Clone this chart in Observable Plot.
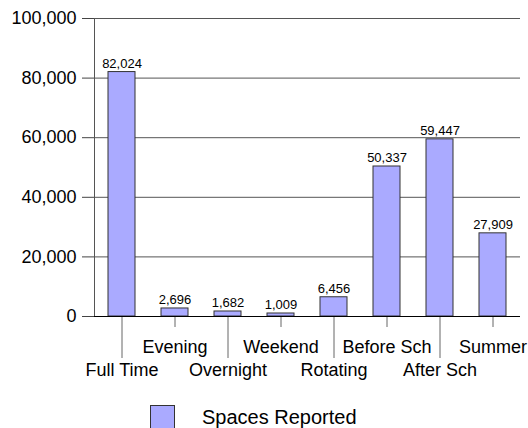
<!DOCTYPE html>
<html>
<head>
<meta charset="utf-8">
<script src="https://cdn.jsdelivr.net/npm/d3@7"></script>
<script src="https://cdn.jsdelivr.net/npm/@observablehq/plot@0.6"></script>
<style>
  html, body { margin: 0; padding: 0; background: #fff; }
  #wrap { position: relative; width: 528px; height: 428px; overflow: hidden; font-family: "Liberation Sans", Arial, sans-serif; }
  #legend { position: absolute; left: 150px; top: 405px; display: flex; align-items: center; }
  #legend .sw { width: 25px; height: 25px; background: #aaaaff; border: 1px solid #333; box-sizing: border-box; }
  #legend .lb { margin-left: 27px; font-size: 20px; color: #000; line-height: 25px; }
</style>
</head>
<body>
<div id="wrap">
  <div id="chart"></div>
  <div id="legend"><div class="sw"></div><div class="lb">Spaces Reported</div></div>
</div>
<script>
const categories = ["Full Time", "Evening", "Overnight", "Weekend", "Rotating", "Before Sch", "After Sch", "Summer"];
const spaces = [82024, 2696, 1682, 1009, 6456, 50337, 59447, 27909];
const yTicks = [0, 20000, 40000, 60000, 80000, 100000];
const seriesName = "Spaces Reported";

const data = categories.map((c, i) => ({category: c, value: spaces[i]}));
const lowerRow = categories.filter((c, i) => i % 2 === 0);
const upperRow = categories.filter((c, i) => i % 2 === 1);
const fmt = d3.format(",");

const chart = Plot.plot({
  width: 528,
  height: 395,
  marginLeft: 94,
  marginRight: 8,
  marginTop: 18,
  marginBottom: 79,
  style: {fontFamily: "'Liberation Sans', Arial, sans-serif", background: "#fff", overflow: "visible"},
  x: {domain: categories, paddingInner: 0.5, paddingOuter: 0.25, label: null},
  y: {domain: [0, 100000], label: null},
  marks: [
    Plot.gridY(yTicks.filter(d => d > 0), {stroke: "#555", strokeOpacity: 1}),
    Plot.frame({anchor: "left", stroke: "#555"}),
    Plot.axisY(yTicks, {tickFormat: fmt, tickSize: 12, tickPadding: 6, fontSize: 18, stroke: "#444", fill: "#000", label: null}),
    Plot.axisX(lowerRow, {tickSize: 42, tickPadding: 5, fontSize: 18, stroke: "#666", fill: "#000", label: null}),
    Plot.axisX(upperRow, {tickSize: 11, tickPadding: 13, fontSize: 18, stroke: "#666", fill: "#000", label: null}),
    Plot.barY(data, {x: "category", y: "value", fill: "#aaaaff", stroke: "#333", strokeWidth: 1}),
    Plot.ruleY([0], {stroke: "#000"}),
    Plot.text(data, {x: "category", y: "value", text: d => fmt(d.value), lineAnchor: "bottom", dy: -4, fontSize: 13, fill: "#000"})
  ]
});
document.getElementById("chart").appendChild(chart);
</script>
</body>
</html>
